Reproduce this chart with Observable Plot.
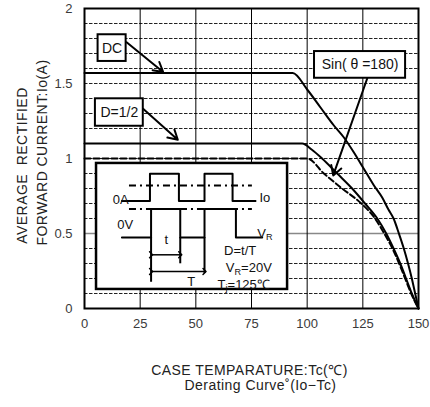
<!DOCTYPE html>
<html><head><meta charset="utf-8">
<script src="https://cdn.jsdelivr.net/npm/d3@7"></script>
<script src="https://cdn.jsdelivr.net/npm/@observablehq/plot@0.6"></script>
<style>
html,body{margin:0;padding:0;background:#fff}
#chart svg{display:block}
</style>
</head><body><div id="chart"></div>
<script>
// ---- axis ticks ----
const xTicks = [0, 25, 50, 75, 100, 125, 150];
const yTicks = [0, 0.5, 1, 1.5, 2];
const xGrid = [25, 50, 75, 100, 125];
const yGridDashed = [0.1,0.2,0.3,0.4,0.6,0.7,0.8,0.9,1.0,1.1,1.2,1.3,1.4,1.5,1.6,1.7,1.8,1.9];
const yGridSolid = [0.5];

// ---- derating curves (Tc in °C, Io in A) ----
const dcT = [0, 93.5, 100, 106, 112, 116.5, 121, 125.5, 130, 133.7, 136.5, 138.8, 141.2, 143.4, 145.3, 147, 148.5, 150];
const dcI = [1.57, 1.57, 1.46, 1.34, 1.22, 1.14, 1.04, 0.93, 0.82, 0.74, 0.66, 0.6, 0.5, 0.4, 0.3, 0.2, 0.1, 0];
const halfT = [0, 97.8, 102, 106.7, 113.5, 120.2, 126, 131.5, 135.5, 138.8, 141.8, 144.4, 147, 150];
const halfI = [1.1, 1.1, 1.06, 1.0, 0.9, 0.8, 0.7, 0.6, 0.5, 0.4, 0.3, 0.2, 0.1, 0];
const sinT = [0, 100, 107.5, 115.7, 124.3, 130.5, 134.6, 138.3, 141.3, 144, 146.7, 150];
const sinI = [1.0, 1.0, 0.9, 0.8, 0.7, 0.6, 0.5, 0.4, 0.3, 0.2, 0.1, 0];

// ---- curve labels (boxes in data units) ----
const labelText = ["DC", "D=1/2", "Sin( θ =180)"];
const labelX1 = [6.1, 4.9, 103.3];
const labelX2 = [18.7, 26.4, 144.2];
const labelY1 = [1.647, 1.215, 1.535];
const labelY2 = [1.825, 1.398, 1.713];
const arrowFromT = [18.9, 26.3, 127];
const arrowFromI = [1.775, 1.331, 1.535];
const arrowToT = [35.3, 41.9, 111.7];
const arrowToI = [1.577, 1.125, 0.887];

// ---- inset (test condition diagram) ----
const insetX = [5.4, 91.2];
const insetY = [0.127, 0.967];
const ioT = [16.8, 29.4, 29.4, 42.4, 42.4, 53.9, 53.9, 66.5, 66.5, 76.8];
const ioI = [0.717, 0.717, 0.898, 0.898, 0.717, 0.717, 0.898, 0.898, 0.717, 0.717];
const vrT = [16.8, 29.9, 29.9, 43.0, 43.0, 53.9, 53.9, 68.0, 68.0, 79.8];
const vrI = [0.473, 0.473, 0.663, 0.663, 0.473, 0.473, 0.663, 0.663, 0.473, 0.473];
const refLineT = [20.2, 75.4];
const refLineI = [0.82, 0.663];
const edgeT = [29.9, 43.0, 53.9];
const edgeTop = [0.473, 0.473, 0.473];
const edgeBottom = [0.175, 0.298, 0.233];
const spanFrom = [29.9, 29.9];
const spanTo = [43.0, 53.9];
const spanI = [0.358, 0.247];
const insetText = ["0A", "0V", "t", "T", "Io", "V{R}", "D=t/T", "V{R}=20V", "T{j}=125℃"];
const insetTextT = [16.3, 18.3, 36.7, 47.9, 81.0, 81.0, 69.9, 73.8, 71.5];
const insetTextI = [0.722, 0.56, 0.455, 0.18, 0.735, 0.5, 0.385, 0.272, 0.16];
const insetAnchor = ["end", "end", "middle", "middle", "start", "start", "middle", "middle", "middle"];

const font = "'Liberation Sans', Arial, sans-serif";

const curves = [
  ...dcT.map((t, i) => ({s: "DC", t, io: dcI[i]})),
  ...halfT.map((t, i) => ({s: "D=1/2", t, io: halfI[i]}))
];
const sinCurve = sinT.map((t, i) => ({t, io: sinI[i]}));
const labels = labelText.map((text, i) => ({text, x1: labelX1[i], x2: labelX2[i], y1: labelY1[i], y2: labelY2[i],
  ax1: arrowFromT[i], ay1: arrowFromI[i], ax2: arrowToT[i], ay2: arrowToI[i]}));
const ioWave = ioT.map((t, i) => ({t, io: ioI[i]}));
const vrWave = vrT.map((t, i) => ({t, io: vrI[i]}));
const refLines = refLineI.map(io => ({x1: refLineT[0], x2: refLineT[1], y: io}));
const edges = edgeT.map((t, i) => ({t, y1: edgeTop[i], y2: edgeBottom[i]}));
const spans = spanI.map((io, i) => ({x1: spanFrom[i], x2: spanTo[i], y: io}));
const insetLabels = insetText.map((text, i) => ({text, t: insetTextT[i], io: insetTextI[i], a: insetAnchor[i]}));

const chart = Plot.plot({
  width: 430, height: 407,
  marginLeft: 84, marginRight: 12, marginTop: 8, marginBottom: 99,
  style: {fontFamily: font, fontSize: "13px", color: "#3a3a3a", background: "#fff", overflow: "visible"},
  x: {domain: [0, 150], ticks: xTicks, tickSize: 0, tickPadding: 10, label: null},
  y: {domain: [0, 2], ticks: yTicks, tickSize: 0, tickPadding: 12, label: null, tickFormat: d => String(d)},
  marks: [
    Plot.ruleY(yGridDashed, {stroke: "#222", strokeWidth: 1, strokeDasharray: "3.5,1.5"}),
    Plot.ruleY(yGridSolid, {stroke: "#888", strokeWidth: 1.5}),
    Plot.ruleX(xGrid, {stroke: "#000", strokeWidth: 1}),
    Plot.line(curves, {x: "t", y: "io", z: "s", stroke: "#000", strokeWidth: 2, curve: "monotone-x"}),
    Plot.line(sinCurve, {x: "t", y: "io", stroke: "#000", strokeWidth: 2, strokeDasharray: "6,3", curve: "monotone-x"}),
    Plot.arrow(labels, {x1: "ax1", y1: "ay1", x2: "ax2", y2: "ay2", stroke: "#000", strokeWidth: 2, headLength: 8}),
    Plot.rect(labels, {x1: "x1", x2: "x2", y1: "y1", y2: "y2", fill: "#fff", stroke: "#000", strokeWidth: 2}),
    Plot.text(labels, {x: d => (d.x1 + d.x2) / 2, y: d => (d.y1 + d.y2) / 2, text: "text", fill: "#111", fontSize: 14}),
    // inset
    Plot.rect([0], {x1: () => insetX[0], x2: () => insetX[1], y1: () => insetY[0], y2: () => insetY[1], fill: "#fff", stroke: "#000", strokeWidth: 2.5}),
    Plot.ruleY(refLines, {x1: "x1", x2: "x2", y: "y", stroke: "#000", strokeWidth: 2, strokeDasharray: "7,4,2,4"}),
    Plot.line(ioWave, {x: "t", y: "io", stroke: "#000", strokeWidth: 2}),
    Plot.line(vrWave, {x: "t", y: "io", stroke: "#000", strokeWidth: 2}),
    Plot.ruleX(edges, {x: "t", y1: "y1", y2: "y2", stroke: "#000", strokeWidth: 2}),
    Plot.link(spans, {x1: "x1", x2: "x2", y1: "y", y2: "y", stroke: "#000", strokeWidth: 1.5, markerStart: "arrow", markerEnd: "arrow"}),
    Plot.text(insetLabels, {x: "t", y: "io", text: "text", textAnchor: d => d.a, fill: "#111", fontSize: 13}),
    Plot.frame({stroke: "#000", strokeWidth: 2}),
    // axis titles
    Plot.text(["CASE TEMPARATURE:Tc(℃)"], {text: d => d, frameAnchor: "bottom", textAnchor: "middle", dy: 66, dx: -2, fill: "#222", fontSize: 14, className: "spaced"}),
    Plot.text(["Derating Curve˚(Io−Tc)"], {text: d => d, frameAnchor: "bottom", textAnchor: "middle", dy: 81, dx: 9, fill: "#222", fontSize: 14, className: "spaced"}),
    Plot.text(["AVERAGE  RECTIFIED"], {text: d => d, frameAnchor: "left", textAnchor: "middle", rotate: -90, dx: -62, dy: 7, fill: "#222", fontSize: 14, className: "spaced"}),
    Plot.text(["FORWARD CURRENT:Io(A)"], {text: d => d, frameAnchor: "left", textAnchor: "middle", rotate: -90, dx: -42, dy: -6, fill: "#222", fontSize: 14, className: "spaced"})
  ]
});

chart.querySelectorAll("g.spaced text").forEach(t => t.style.letterSpacing = "0.45px");

// subscripts written as X{sub}
chart.querySelectorAll("text").forEach(t => {
  if (t.children.length) return;
  const s = t.textContent;
  if (!s.includes("{")) return;
  t.textContent = "";
  const parts = s.split(/(\{[^}]*\})/).filter(p => p !== "");
  let lowered = false;
  for (const p of parts) {
    const ts = document.createElementNS("http://www.w3.org/2000/svg", "tspan");
    if (p.startsWith("{")) {
      ts.textContent = p.slice(1, -1);
      ts.setAttribute("font-size", "0.7em");
      ts.setAttribute("dy", "0.3em");
      lowered = true;
    } else {
      ts.textContent = p;
      if (lowered) { ts.setAttribute("dy", "-0.21em"); lowered = false; }
    }
    t.appendChild(ts);
  }
});

document.getElementById("chart").appendChild(chart);
</script>
</body></html>
